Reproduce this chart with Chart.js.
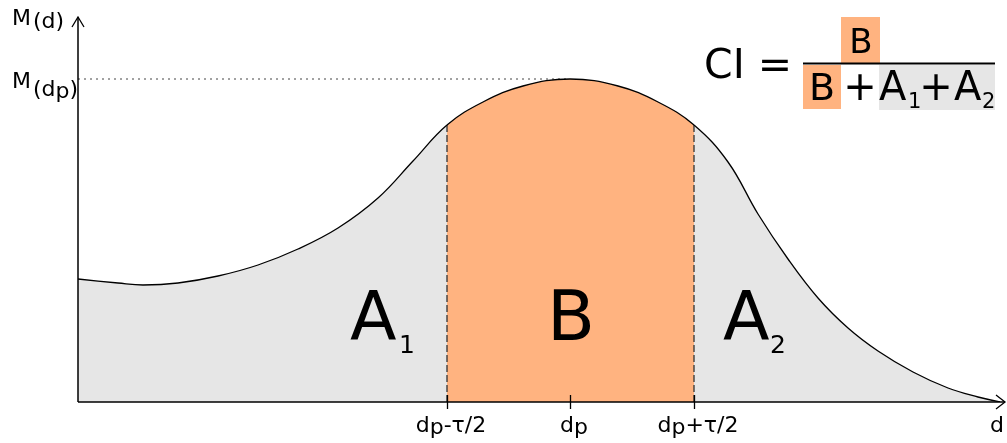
<!DOCTYPE html>
<html>
<head>
<meta charset="utf-8">
<script src="https://cdn.jsdelivr.net/npm/chart.js@4.4.0/dist/chart.umd.min.js"></script>
<style>
  html, body { margin: 0; padding: 0; background: #fff; }
  canvas { display: block; }
</style>
</head>
<body>
<canvas id="ciChart" width="1007" height="443"></canvas>
<script>
// curve M(d) (d and M in arbitrary units)
const curveX = [0, 40, 65, 100, 140, 180, 220, 260, 300, 335, 369, 405, 445, 492,
  540, 580, 616, 650, 680, 710, 740, 770, 800, 835, 870, 900, 922];
const curveY = [123, 119, 117, 119, 126, 137, 153, 174, 204, 241, 277, 300, 316, 323,
  316, 300, 277, 240, 188, 143, 104, 74, 51, 30, 14, 5, 0];

const bandLeft = 369;   // dp - tau/2
const bandRight = 616;  // dp + tau/2
const peakX = 492;      // dp
const peakY = 323;      // M(dp)

const tickValues = [bandLeft, peakX, bandRight];
const tickLabels = [["d", "p", "-τ/2"], ["d", "p", ""], ["d", "p", "+τ/2"]];

const ORANGE = "#ffb380";
const GRAY = "#e6e6e6";
const FONT = "'DejaVu Sans', sans-serif";

const curvePoints = curveX.map((x, i) => ({ x, y: curveY[i] }));
const yAt = (x) => curveY[curveX.indexOf(x)];

function drawSub(ctx, parts, x, y, size, subSize, subDrop, align) {
  // parts: [base, sub, rest]
  ctx.font = `${size}px ${FONT}`;
  const w1 = ctx.measureText(parts[0]).width;
  const w3 = ctx.measureText(parts[2]).width;
  ctx.font = `${subSize}px ${FONT}`;
  const w2 = ctx.measureText(parts[1]).width;
  let left = x;
  if (align === "center") left = x - (w1 + w2 + w3) / 2;
  ctx.textAlign = "left";
  ctx.textBaseline = "alphabetic";
  ctx.font = `${size}px ${FONT}`;
  ctx.fillText(parts[0], left, y);
  ctx.font = `${subSize}px ${FONT}`;
  ctx.fillText(parts[1], left + w1, y + subDrop);
  ctx.font = `${size}px ${FONT}`;
  ctx.fillText(parts[2], left + w1 + w2, y);
}

const overlay = {
  id: "overlay",
  afterDatasetsDraw(chart) {
    const { ctx, scales: { x, y } } = chart;
    const x0 = x.getPixelForValue(0);
    const y0 = y.getPixelForValue(0);
    const xEnd = x.right + 2;
    const yTop = y.top;

    ctx.save();
    ctx.strokeStyle = "#000";
    ctx.lineWidth = 1.5;
    ctx.setLineDash([]);
    // axes
    ctx.beginPath();
    ctx.moveTo(x0, y0);
    ctx.lineTo(xEnd, y0);
    ctx.moveTo(x0, y0);
    ctx.lineTo(x0, yTop);
    ctx.stroke();
    // arrow heads
    ctx.lineWidth = 1.3;
    ctx.beginPath();
    ctx.moveTo(xEnd - 9, y0 - 7);
    ctx.lineTo(xEnd, y0);
    ctx.lineTo(xEnd - 9, y0 + 7);
    ctx.moveTo(x0 - 6, yTop + 10);
    ctx.lineTo(x0, yTop);
    ctx.lineTo(x0 + 6, yTop + 10);
    ctx.stroke();
    // ticks
    ctx.beginPath();
    tickValues.forEach((v) => {
      const px = Math.round(x.getPixelForValue(v)) + 0.5;
      ctx.moveTo(px, y0 - 7);
      ctx.lineTo(px, y0 + 7);
    });
    ctx.stroke();

    ctx.fillStyle = "#000";
    // tick labels
    tickValues.forEach((v, i) => {
      drawSub(ctx, tickLabels[i], x.getPixelForValue(v) + 4, 432, 22, 22, 2, "center");
    });
    // axis titles
    ctx.font = `22px ${FONT}`;
    ctx.textAlign = "left";
    ctx.fillText("M", 12, 25);
    ctx.fillText("(d)", 33, 28);
    ctx.fillText("M", 12, 88);
    drawSub(ctx, ["(d", "p", ")"], 33, 96, 22, 22, 2, "left");
    ctx.fillText("d", 990, 432);

    // region labels
    ctx.font = `68px ${FONT}`;
    ctx.textAlign = "left";
    ctx.fillText("A", 350, 340);
    ctx.fillText("A", 723, 340);
    ctx.font = `25px ${FONT}`;
    ctx.fillText("1", 399, 353);
    ctx.fillText("2", 770, 353);
    ctx.font = `70px ${FONT}`;
    ctx.textAlign = "center";
    ctx.fillText("B", x.getPixelForValue(peakX) + 1, 340);

    // formula CI = B / (B + A1 + A2)
    ctx.fillStyle = ORANGE;
    ctx.fillRect(841, 17, 39, 46);
    ctx.fillRect(803, 65, 38, 44);
    ctx.fillStyle = GRAY;
    ctx.fillRect(879, 65, 116, 45);
    ctx.fillStyle = "#000";
    ctx.fillRect(803, 62.5, 192, 2);
    ctx.font = `41px ${FONT}`;
    ctx.textAlign = "left";
    ctx.fillText("CI", 704, 78);
    ctx.textAlign = "center";
    ctx.fillText("=", 775, 78);
    ctx.font = `34px ${FONT}`;
    ctx.fillText("B", 861, 53);
    ctx.font = `38px ${FONT}`;
    ctx.fillText("B", 822, 100);
    ctx.font = `40px ${FONT}`;
    ctx.fillText("+", 860, 100);
    ctx.fillText("+", 936, 100);
    ctx.textAlign = "left";
    ctx.fillText("A", 879, 100);
    ctx.fillText("A", 954, 100);
    ctx.font = `21px ${FONT}`;
    ctx.fillText("1", 908, 108);
    ctx.fillText("2", 982, 108);
    ctx.restore();
  },
};

new Chart(document.getElementById("ciChart"), {
  type: "line",
  data: {
    datasets: [
      {
        label: "M(d)",
        data: curvePoints,
        borderColor: "#000",
        borderWidth: 1.3,
        pointRadius: 0,
        tension: 0.4,
        fill: "origin",
        backgroundColor: GRAY,
        segment: {
          backgroundColor: (c) =>
            c.p0.parsed.x >= bandLeft && c.p1.parsed.x <= bandRight ? ORANGE : GRAY,
        },
      },
      {
        label: "left",
        data: [{ x: bandLeft, y: 0 }, { x: bandLeft, y: yAt(bandLeft) }],
        borderColor: "#333",
        borderWidth: 1.3,
        borderDash: [7, 3],
        pointRadius: 0,
        fill: false,
      },
      {
        label: "right",
        data: [{ x: bandRight, y: 0 }, { x: bandRight, y: yAt(bandRight) }],
        borderColor: "#333",
        borderWidth: 1.3,
        borderDash: [7, 3],
        pointRadius: 0,
        fill: false,
      },
      {
        label: "peak",
        data: [{ x: 0, y: peakY }, { x: peakX, y: peakY }],
        borderColor: "#444",
        borderWidth: 1,
        borderDash: [2, 4],
        pointRadius: 0,
        fill: false,
      },
    ],
  },
  options: {
    responsive: false,
    animation: false,
    devicePixelRatio: 1,
    layout: { padding: { left: 78, top: 17, right: 4, bottom: 41 } },
    scales: {
      x: { type: "linear", min: 0, max: 925, display: false },
      y: { min: 0, max: 385, display: false },
    },
    plugins: {
      filler: { drawTime: "beforeDatasetsDraw" },
      legend: { display: false },
      tooltip: { enabled: false },
    },
  },
  plugins: [overlay],
});
</script>
</body>
</html>
